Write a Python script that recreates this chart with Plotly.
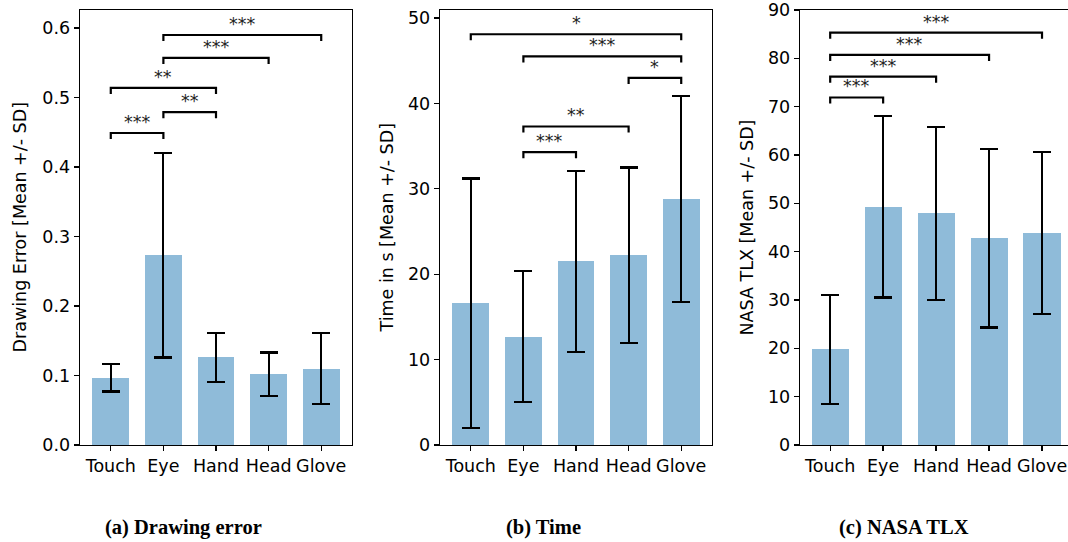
import plotly.graph_objects as go

categories = ["Touch", "Eye", "Hand", "Head", "Glove"]

# (a) Drawing error
err_mean = [0.097, 0.273, 0.126, 0.102, 0.110]
err_sd = [0.020, 0.147, 0.035, 0.031, 0.051]
err_sig = [("Touch", "Eye", 0.449, "***"), ("Eye", "Hand", 0.479, "**"),
           ("Touch", "Hand", 0.514, "**"), ("Eye", "Head", 0.557, "***"),
           ("Eye", "Glove", 0.590, "***")]

# (b) Time
time_mean = [16.6, 12.7, 21.5, 22.2, 28.8]
time_sd = [14.6, 7.7, 10.6, 10.3, 12.1]
time_sig = [("Eye", "Hand", 34.3, "***"), ("Eye", "Head", 37.3, "**"),
            ("Head", "Glove", 43.0, "*"), ("Eye", "Glove", 45.5, "***"),
            ("Touch", "Glove", 48.1, "*")]

# (c) NASA TLX
tlx_mean = [19.8, 49.3, 47.9, 42.8, 43.9]
tlx_sd = [11.3, 18.8, 17.85, 18.5, 16.75]
tlx_sig = [("Touch", "Eye", 71.9, "***"), ("Touch", "Hand", 76.2, "***"),
           ("Touch", "Head", 80.7, "***"), ("Touch", "Glove", 85.3, "***")]

y_titles = ["Drawing Error [Mean +/- SD]", "Time in s [Mean +/- SD]", "NASA TLX [Mean +/- SD]"]
captions = ["(a) Drawing error", "(b) Time", "(c) NASA TLX"]

# figure is slightly wider than the 1068px window so the right panel is cropped as in the reference
W, H = 1076, 542
FONT = "DejaVu Sans"
FS = 17.5

panels = [
    dict(mean=err_mean, sd=err_sd, sig=err_sig, yr=[0, 0.626], dtick=0.1, fmt=".1f",
         px=(80, 352), xr=[-0.585, 4.585], title_x=20, cap_x=183),
    dict(mean=time_mean, sd=time_sd, sig=time_sig, yr=[0, 50.94], dtick=10, fmt="d",
         px=(440, 712), xr=[-0.585, 4.585], title_x=387, cap_x=543),
    dict(mean=tlx_mean, sd=tlx_sd, sig=tlx_sig, yr=[0, 90], dtick=10, fmt="d",
         px=(800, 1073), xr=[-0.57, 4.585], title_x=747, cap_x=904),
]

y_top, y_bot = 10, 445
ydom = [1 - y_bot / H, 1 - y_top / H]

fig = go.Figure()
annotations = []
for k, p in enumerate(panels):
    n = k + 1
    xa = "x" if n == 1 else f"x{n}"
    ya = "y" if n == 1 else f"y{n}"
    fig.add_trace(go.Bar(
        x=categories, y=p["mean"], width=0.7,
        marker=dict(color="rgba(31,119,180,0.5)", line=dict(width=0)),
        error_y=dict(type="data", array=p["sd"], visible=True, color="black",
                     thickness=2.2, width=9),
        xaxis=xa, yaxis=ya, showlegend=False, hoverinfo="skip"))
    span = p["yr"][1] - p["yr"][0]
    drop = span * 0.014
    for a, b, yv, lab in p["sig"]:
        fig.add_trace(go.Scatter(
            x=[a, a, b, b], y=[yv - drop, yv, yv, yv - drop], mode="lines",
            line=dict(color="black", width=2.2), xaxis=xa, yaxis=ya,
            showlegend=False, hoverinfo="skip"))
        ia, ib = categories.index(a), categories.index(b)
        annotations.append(dict(
            x=(ia + ib) / 2, y=yv, xref=xa, yref=ya, text=lab, showarrow=False,
            xanchor="center", yanchor="bottom", yshift=-1,
            font=dict(family=FONT, size=FS, color="#222")))
    axis_common = dict(showline=True, linecolor="black", linewidth=1.3,
                       ticks="outside", ticklen=5, tickwidth=1.3, tickcolor="black",
                       showgrid=False, zeroline=False, automargin=False,
                       tickfont=dict(family=FONT, size=FS, color="black"))
    fig.update_layout(**{
        ("xaxis" if n == 1 else f"xaxis{n}"): dict(
            domain=[p["px"][0] / W, p["px"][1] / W], range=p["xr"],
            anchor=ya, mirror=True, categoryorder="array", categoryarray=categories,
            **axis_common),
        ("yaxis" if n == 1 else f"yaxis{n}"): dict(
            domain=ydom, range=p["yr"], anchor=xa, dtick=p["dtick"], tick0=0,
            tickformat=p["fmt"], mirror=True, **axis_common),
    })
    annotations.append(dict(
        x=p["title_x"] / W, y=1 - ((y_top + y_bot) / 2) / H, xref="paper", yref="paper",
        text=y_titles[k], textangle=-90, showarrow=False, xanchor="center", yanchor="middle",
        font=dict(family=FONT, size=FS, color="black")))
    annotations.append(dict(
        x=p["cap_x"] / W, y=1 - 527 / H, xref="paper", yref="paper",
        text="<b>" + captions[k] + "</b>", showarrow=False, xanchor="center", yanchor="middle",
        font=dict(family="Liberation Serif", size=20.5, color="black")))

fig.update_layout(width=W, height=H, margin=dict(l=0, r=0, t=0, b=0, autoexpand=False),
                  plot_bgcolor="white", paper_bgcolor="white",
                  annotations=annotations, bargap=0)
fig.write_html("out.html", config={"displayModeBar": False, "staticPlot": True},
               post_script="document.body.style.margin='0';document.body.style.overflow='hidden';")
